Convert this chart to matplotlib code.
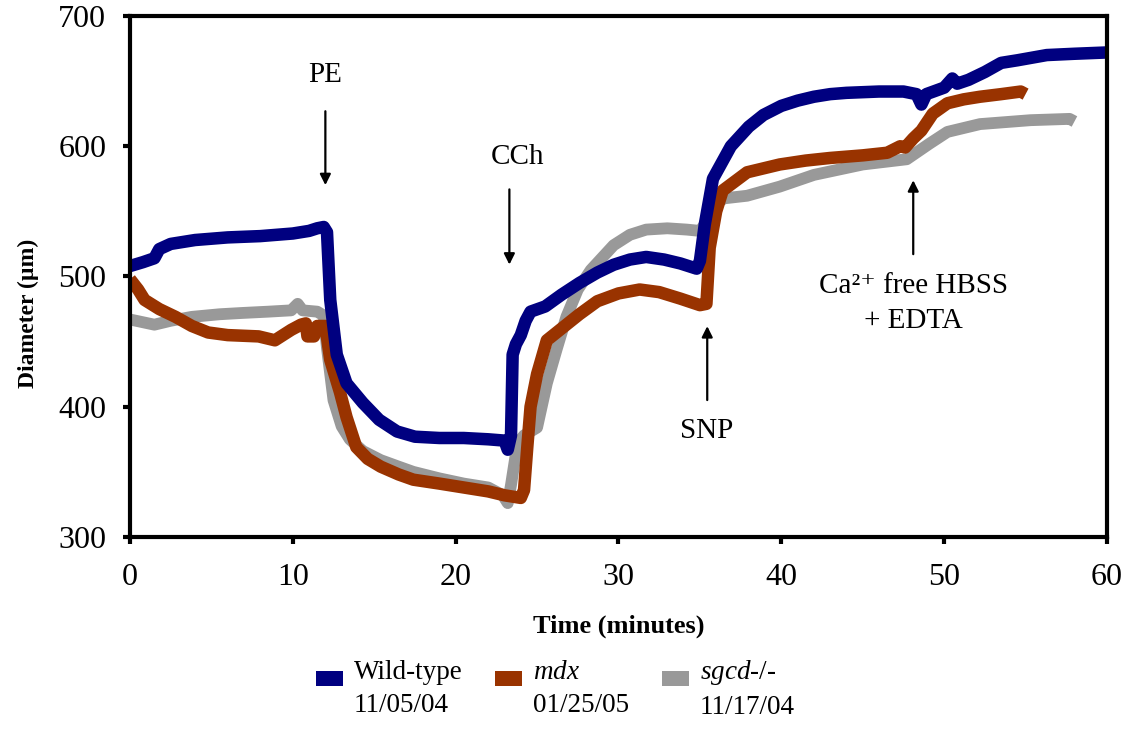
import matplotlib
matplotlib.use("Agg")
import matplotlib.pyplot as plt
from matplotlib.patches import Patch, Rectangle
from matplotlib.legend_handler import HandlerPatch

plt.rcParams['font.family'] = ['Liberation Serif', 'DejaVu Serif']
plt.rcParams['mathtext.fontset'] = 'custom'
plt.rcParams['mathtext.rm'] = 'Liberation Serif'
plt.rcParams['mathtext.it'] = 'Liberation Serif:italic'

# Wild-type 11/05/04
wt_t = [0.0, 0.8, 1.5, 1.8, 2.5, 4, 6, 8, 10, 11, 11.5, 11.9, 12.1, 12.3, 12.7, 13.3,
        14.3, 15.3, 16.4, 17.5, 19, 20.5, 22, 23.0, 23.2, 23.4, 23.5, 23.7, 24.0, 24.3,
        24.6, 25.5, 26.5, 27.6, 28.7, 29.7, 30.7, 31.7, 32.8, 33.8, 34.8, 35.0, 35.3,
        35.8, 36.9, 38, 38.9, 40, 41, 42, 43, 44, 46, 47.5, 48.3, 48.6, 48.9, 50, 50.5,
        50.8, 51.5, 52.5, 53.5, 54.5, 56.3, 58, 60]
wt_d = [508, 511, 514, 521, 525, 528, 530, 531, 533, 535, 537, 538, 534, 482, 440, 418,
        403, 390, 381, 377, 376, 376, 375, 374, 367, 378, 440, 448, 455, 466,
        473, 477, 486, 495, 503, 509, 513, 515, 513, 510, 506, 512, 540,
        575, 600, 615, 624, 631, 635, 638, 640, 641, 642, 642, 640, 632, 640, 645, 652,
        648, 651, 657, 664, 666, 670, 671, 672]

# mdx 01/25/05
mdx_t = [0.0, 0.5, 0.9, 1.8, 2.8, 3.8, 4.8, 6, 7.9, 8.9, 9.4, 9.9, 10.5, 10.8, 10.9,
         11.3, 11.5, 12.0, 12.3, 12.9, 13.3, 13.9, 14.6, 15.4, 16.5, 17.4, 19, 20.5,
         22, 23.0, 24.0, 24.2, 24.4, 24.6, 25.0, 25.6, 26.6, 27.6, 28.7, 30, 31.3,
         32.5, 33.8, 35.0, 35.4, 35.6, 36.0, 36.4, 37.9, 39.9, 41.5, 43, 45, 46.5,
         47.3, 47.6, 48.1, 48.6, 49.3, 50.2, 51.2, 52.2, 53.5, 54.7, 55.0]
mdx_d = [498, 490, 482, 475, 469, 462, 457, 455, 454, 451, 455, 459, 463, 464, 454,
         454, 462, 462, 436, 411, 392, 369, 360, 354, 348, 344, 341, 338,
         335, 332, 330, 336, 369, 400, 425, 451, 461, 471, 481, 487, 490,
         488, 483, 478, 479, 522, 550, 566, 580, 586, 589, 591, 593, 595,
         600, 599, 606, 612, 625, 633, 636, 638, 640, 642, 640]

# sgcd-/- 11/17/04
sg_t = [0.0, 1.5, 2.5, 3.8, 5.5, 6.9, 8.5, 9.9, 10.3, 10.6, 11.5, 11.9, 12.1, 12.5,
        13.0, 13.5, 14.3, 15.4, 16.5, 17.4, 19, 20.5, 22, 22.9, 23.2, 23.4, 23.8,
        24.2, 25.0, 25.6, 26.2, 26.8, 27.5, 28.3, 29.7, 30.7, 31.7, 33, 34.2, 35.0,
        35.3, 35.8, 36.5, 37.9, 39.9, 42, 45, 47.7, 49.1, 50.2, 52.2, 55.3, 57.7, 58.0]
sg_d = [467, 463, 466, 469, 471, 472, 473, 474, 479, 474, 473, 470, 445, 405,
        385, 375, 366, 359, 354, 350, 345, 341, 338, 332, 326, 340, 372,
        378, 384, 418, 444, 469, 490, 505, 524, 532, 536, 537, 536, 535,
        540, 555, 560, 562, 569, 578, 586, 590, 602, 611, 617, 620, 621, 619]

labels = ['Wild-type\n11/05/04', '$\\mathit{mdx}$\n01/25/05',
          '$\\mathit{sgcd\\text{-}/\\text{-}}$\n11/17/04']
colors = ['#000080', '#993300', '#999999']

fig = plt.figure(figsize=(11.31, 7.30), dpi=100)
ax = fig.add_axes([0.1149, 0.2644, 0.8639, 0.7137])

style = dict(solid_capstyle='butt', solid_joinstyle='round')
ax.plot(sg_t, sg_d, color=colors[2], lw=8.5, **style)
ax.plot(mdx_t, mdx_d, color=colors[1], lw=9, **style)
ax.plot(wt_t, wt_d, color=colors[0], lw=9, **style)

ax.set_xlim(0, 60)
ax.set_ylim(300, 700)
ax.set_xticks(range(0, 61, 10))
ax.set_yticks(range(300, 701, 100))
for s in ax.spines.values():
    s.set_linewidth(3)
ax.tick_params(direction='out', length=5, width=3, labelsize=23, pad=12)
ax.tick_params(axis='x', pad=14)

ax.set_xlabel('Time (minutes)', fontsize=19, fontweight='bold', labelpad=16)
ax.set_ylabel('Diameter (µm)', fontsize=17, fontweight='bold')
ax.yaxis.set_label_coords(-0.093, 0.43)

arrow = dict(arrowstyle='-|>', color='black', lw=1.6, mutation_scale=16)
ax.annotate('', xy=(12.0, 568), xytext=(12.0, 629), arrowprops=arrow)
ax.text(12.0, 655, 'PE', fontsize=21, ha='center', va='center')
ax.annotate('', xy=(23.3, 507), xytext=(23.3, 569), arrowprops=arrow)
ax.text(23.8, 592, 'CCh', fontsize=21, ha='center', va='center')
ax.annotate('', xy=(35.45, 464), xytext=(35.45, 403), arrowprops=arrow)
ax.text(35.4, 381, 'SNP', fontsize=21, ha='center', va='center')
ax.annotate('', xy=(48.1, 576), xytext=(48.1, 515), arrowprops=arrow)
ax.text(48.1, 493, 'Ca²⁺ free HBSS', fontsize=21, ha='center', va='center')
ax.text(48.1, 466, '+ EDTA', fontsize=21, ha='center', va='center')


def raised_box(legend, orig_handle, xdescent, ydescent, width, height, fontsize):
    # swatch sits level with the first line of the label
    return Rectangle((-xdescent, -ydescent + 7.5), width, height)


handles = [Patch(facecolor=c, edgecolor='none') for c in colors]
leg = fig.legend(handles, labels, loc='center', bbox_to_anchor=(0.491, 0.056), ncol=3,
                 frameon=False, fontsize=19.5, handlelength=1.0, handleheight=0.45,
                 handletextpad=0.4, columnspacing=1.2, labelspacing=0.2,
                 handler_map={Patch: HandlerPatch(patch_func=raised_box)})
for t in leg.get_texts():
    t.set_linespacing(1.45)

fig.savefig('out.png', dpi=100)
